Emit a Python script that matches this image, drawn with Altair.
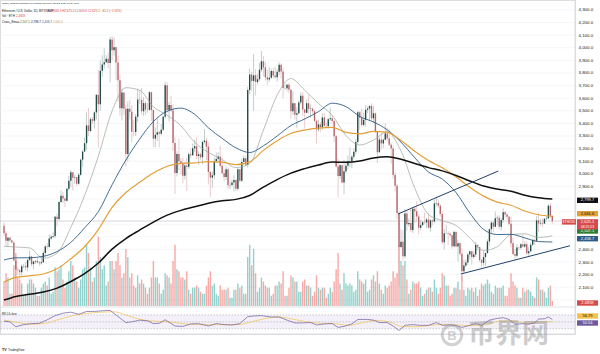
import altair as alt
import pandas as pd

# ---------------- data (read / estimated from the picture) ----------------
first_open = 2587
close_jan = [2528,2468,2492,2470,2455,2313,2240,2235,2218,2267,2268,2257,2317,2343,2283]
high_jan  = [2613,2546,2500,2500,2478,2461,2350,2260,2240,2282,2285,2300,2325,2393,2350]
low_jan   = [2508,2423,2417,2456,2450,2305,2168,2200,2166,2193,2250,2233,2227,2310,2265]
close_feb = [2304,2309,2296,2290,2298,2372,2423,2419,2486,2501,2507,2659,2642,2777,2825,2803,2786,2881,2944,3013,2968,2972,2922,2992,3112,3177,3243,3384,3340]
high_feb  = [2306,2318,2330,2310,2340,2389,2437,2450,2520,2515,2538,2665,2686,2785,2868,2857,2810,2890,2984,3030,3013,2993,2975,3008,3120,3190,3288,3487,3522]
low_feb   = [2243,2285,2290,2268,2278,2292,2350,2404,2415,2475,2490,2490,2583,2629,2768,2770,2736,2777,2865,2896,2867,2920,2904,2912,2982,3055,3173,3190,3300]
close_mar = [3433,3421,3487,3627,3552,3818,3868,3885,3912,3880,4066,3980,4005,3883,3742,3521,3645,3517,3157,3517,3492,3333,3331,3452,3589,3586,3496,3561,3510,3508,3647]
high_mar  = [3450,3450,3495,3630,3823,3900,3940,3995,3940,3960,4085,4093,4083,4010,3935,3785,3678,3645,3545,3575,3587,3544,3430,3475,3675,3663,3680,3608,3577,3565,3657]
low_mar   = [3330,3395,3360,3430,3208,3500,3770,3835,3880,3838,3725,3900,3937,3745,3570,3460,3423,3466,3057,3100,3430,3250,3298,3300,3410,3554,3470,3460,3465,3483,3500]
close_apr = [3505,3279,3310,3330,3317,3350,3453,3702,3506,3545,3503,3245,3007,3157,3099,3082,2985,3066,3055,3155,3147,3202,3219,3141,3155,3131,3252,3263,3215,3014]
high_apr  = [3651,3510,3367,3441,3345,3395,3461,3730,3726,3570,3620,3550,3290,3180,3280,3125,3125,3093,3130,3170,3200,3240,3270,3290,3178,3167,3264,3355,3285,3250]
low_apr   = [3420,3210,3210,3260,3211,3305,3340,3438,3486,3415,3490,3180,2840,2980,3030,2995,2925,2955,2865,3040,3125,3140,3170,3117,3070,3107,3075,3240,3110,2915]
close_may = [2970,2988,3102,3117,3138,3064,3005,2974,3036,2910,2912,2930,2950,2882,3037,2945,3094,3123,3071,3664,3788,3737,3781,3728,3750,3826,3893,3844,3766,3748,3762]
high_may  = [3020,3015,3130,3170,3170,3220,3130,3030,3058,3050,2945,2955,2990,2960,3045,3040,3120,3145,3140,3690,3835,3810,3950,3830,3790,3880,3975,3935,3888,3825,3845]
low_may   = [2817,2890,2958,3085,3090,3050,3000,2940,2950,2880,2880,2900,2860,2865,2864,2930,2935,3090,3060,3050,3630,3660,3500,3620,3710,3736,3810,3775,3740,3705,3730]
close_jun = [3815,3780,3767,3810,3866,3812,3680,3678,3706,3667,3497,3560,3469,3480,3566,3620,3510,3484,3560,3514,3517,3497,3420,3352,3392,3369,3447,3380,3378,3433]
high_jun  = [3833,3840,3850,3830,3885,3875,3840,3715,3716,3720,3670,3655,3562,3528,3585,3645,3650,3515,3590,3625,3550,3528,3510,3430,3430,3410,3480,3485,3405,3445]
low_jun   = [3752,3758,3756,3730,3784,3757,3600,3669,3655,3640,3435,3468,3430,3366,3470,3550,3460,3358,3480,3480,3445,3480,3410,3240,3335,3330,3350,3375,3370,3360]
close_jul = [3440,3419,3298,3057,2983,3068,2930,3020,3064,3099,3100,3136,3174,3253,3489,3445,3388,3428,3508,3518,3537,3440,3480,3336,3171,3272,3241,3270,3320,3280,3230]
high_jul  = [3525,3462,3430,3310,3120,3080,3075,3110,3100,3145,3210,3150,3200,3275,3500,3500,3515,3485,3545,3535,3545,3560,3540,3485,3340,3290,3325,3280,3400,3365,3350]
low_jul   = [3420,3400,3250,3050,2810,2960,2925,2840,3003,3035,3055,3045,3115,3155,3230,3350,3375,3375,3375,3480,3425,3420,3400,3320,3085,3170,3190,3205,3265,3260,3220]
close_aug = [3200,2990,2905,2688,2420,2460,2345,2685,2600,2610,2555,2722,2703,2662,2571,2593,2616,2614,2637,2573,2630,2622,2765,2768,2746,2681,2457,2528,2528,2525,2513]
high_aug  = [3245,3220,3015,2920,2700,2560,2550,2720,2710,2645,2720,2740,2740,2785,2680,2635,2625,2690,2650,2690,2640,2640,2795,2820,2795,2760,2700,2560,2595,2545,2535]
low_aug   = [3080,2960,2860,2640,2111,2410,2310,2330,2550,2580,2540,2530,2610,2620,2520,2550,2585,2600,2570,2560,2540,2590,2610,2740,2730,2660,2440,2400,2520,2435,2500]
close_sep = [2425,2538,2423,2449,2366,2226,2272,2297,2360,2386,2340,2360,2436,2418,2315,2294,2340,2372,2463,2561,2613,2580,2647,2651,2580,2633,2695,2677,2659,2603]
high_sep  = [2520,2550,2550,2475,2460,2408,2315,2320,2375,2390,2390,2385,2460,2435,2420,2325,2390,2375,2480,2565,2620,2620,2700,2670,2670,2650,2725,2705,2685,2665]
low_sep   = [2405,2415,2415,2305,2350,2150,2215,2260,2275,2320,2280,2325,2340,2390,2300,2255,2270,2270,2365,2430,2525,2540,2575,2590,2560,2550,2610,2650,2635,2590]
close_oct = [2448,2364,2350,2415,2414,2440,2423,2440,2370,2386,2437,2476,2468,2630,2606,2611,2605,2643,2646,2747,2666,2625]
high_oct  = [2660,2490,2400,2440,2425,2450,2520,2465,2465,2420,2455,2480,2480,2665,2690,2640,2645,2650,2665,2760,2770,2675]
low_oct   = [2415,2355,2310,2335,2395,2400,2415,2410,2355,2340,2380,2428,2435,2465,2540,2590,2575,2600,2630,2640,2650,2604]

vol_jan = [12,16,14,6,6,20,26,14,13,11,5,6,11,13,13]
vol_feb = [11,9,5,5,9,11,12,10,14,6,7,19,17,18,20,13,9,12,17,22,20,14,12,9,13,18,19,30,26]
vol_mar = [19,12,14,22,34,24,18,20,10,12,22,22,18,22,26,20,14,16,28,24,14,16,10,9,15,11,13,11,9,6,9]
vol_apr = [14,22,14,14,11,6,8,16,15,14,11,22,30,18,17,14,14,13,17,8,6,9,9,10,9,7,6,6,10,14]
vol_may = [17,10,11,6,5,10,8,8,8,9,4,4,8,8,11,9,10,6,6,24,30,20,28,16,7,9,14,12,10,9,9]
vol_jun = [5,6,10,10,12,11,17,5,5,9,15,14,12,12,7,7,12,13,10,10,9,5,7,15,9,8,9,9,4,6]
vol_jul = [9,7,12,18,26,11,8,16,11,10,11,10,7,8,17,13,12,11,13,7,8,13,15,12,17,11,8,6,10,9,10]
vol_aug = [12,17,14,16,30,22,20,22,13,6,8,12,11,11,12,9,5,6,8,9,9,7,13,9,6,9,16,15,10,10,5]
vol_sep = [6,9,9,12,8,15,8,5,9,8,9,7,9,5,8,11,10,11,13,11,7,6,10,9,9,9,10,5,5,9]
vol_oct = [16,12,10,9,4,4,9,7,8,8,7,5,4,14,13,8,8,7,4,9,10,2.5]

# moving-average lines at weekly points
ma_dates = ["2024-01-17","2024-01-23","2024-01-30","2024-02-06","2024-02-13","2024-02-20","2024-02-27",
            "2024-03-05","2024-03-12","2024-03-19","2024-03-26","2024-04-02","2024-04-09","2024-04-16",
            "2024-04-23","2024-04-30","2024-05-07","2024-05-14","2024-05-21","2024-05-28","2024-06-04",
            "2024-06-11","2024-06-18","2024-06-25","2024-07-02","2024-07-09","2024-07-16","2024-07-23",
            "2024-07-30","2024-08-06","2024-08-13","2024-08-20","2024-08-27","2024-09-03","2024-09-10",
            "2024-09-17","2024-09-24","2024-10-01","2024-10-08","2024-10-15","2024-10-22"]
ma_gray   = [2425,2419,2412,2330,2371,2575,2827,3140,3499,3683,3663,3532,3465,3381,3250,3170,3113,3049,3082,3347,3624,
             3756,3663,3558,3464,3304,3228,3268,3332,3181,2887,2677,2628,2590,2492,2392,2421,2517,2524,2495,2507]
ma_blue   = [2316,2333,2334,2345,2383,2456,2571,2700,2913,3109,3275,3415,3496,3521,3472,3365,3281,3206,3169,3222,3300,
             3383,3435,3493,3560,3533,3455,3411,3349,3251,3128,3014,2958,2851,2689,2559,2518,2520,2491,2462,2459]
ma_orange = [2141,2178,2190,2205,2246,2326,2421,2557,2734,2852,2932,3006,3060,3083,3087,3097,3092,3073,3095,3186,3263,
             3320,3347,3362,3368,3328,3317,3337,3328,3265,3179,3105,3048,2976,2893,2823,2775,2750,2705,2675,2662]
ma_black  = [1998,2027,2044,2062,2093,2145,2207,2292,2402,2486,2553,2617,2672,2710,2738,2767,2787,2797,2828,2894,2954,
             3005,3041,3070,3093,3091,3101,3126,3136,3116,3081,3049,3023,2987,2943,2903,2879,2861,2830,2810,2800]

rsi_dates = ["2024-01-17","2024-01-20","2024-01-23","2024-01-27","2024-01-31","2024-02-04","2024-02-08","2024-02-12",
             "2024-02-16","2024-02-20","2024-02-24","2024-02-28","2024-03-03","2024-03-07","2024-03-11","2024-03-14",
             "2024-03-19","2024-03-22","2024-03-26","2024-03-30","2024-04-02","2024-04-05","2024-04-08","2024-04-13",
             "2024-04-17","2024-04-21","2024-04-25","2024-04-30","2024-05-04","2024-05-08","2024-05-12","2024-05-16",
             "2024-05-20","2024-05-23","2024-05-27","2024-06-01","2024-06-05","2024-06-09","2024-06-13","2024-06-17",
             "2024-06-21","2024-06-24","2024-06-28","2024-07-02","2024-07-05","2024-07-08","2024-07-12","2024-07-15",
             "2024-07-20","2024-07-23","2024-07-26","2024-07-30","2024-08-02","2024-08-05","2024-08-08","2024-08-12",
             "2024-08-16","2024-08-20","2024-08-24","2024-08-27","2024-08-31","2024-09-03","2024-09-06","2024-09-10",
             "2024-09-13","2024-09-16","2024-09-20","2024-09-24","2024-09-27","2024-09-30","2024-10-03","2024-10-07",
             "2024-10-10","2024-10-13","2024-10-15","2024-10-18","2024-10-20","2024-10-22"]
rsi_vals = [52,50,36,42,45,46,56,68,75,78,72,80,80,82,83,70,48,50,55,53,45,46,56,38,37,44,45,38,45,42,41,45,
            65,67,68,64,64,55,47,47,48,41,44,45,34,37,44,57,57,55,48,48,38,25,40,42,40,40,48,40,41,39,34,40,
            45,40,55,60,62,57,43,45,43,47,58,59,64,56.8]
rsima_dates = ["2024-01-17","2024-01-24","2024-01-31","2024-02-07","2024-02-14","2024-02-21","2024-02-28","2024-03-06",
               "2024-03-13","2024-03-20","2024-03-27","2024-04-03","2024-04-10","2024-04-17","2024-04-24","2024-05-01",
               "2024-05-08","2024-05-15","2024-05-22","2024-05-29","2024-06-05","2024-06-12","2024-06-19","2024-06-26",
               "2024-07-03","2024-07-10","2024-07-17","2024-07-24","2024-07-31","2024-08-07","2024-08-14","2024-08-21",
               "2024-08-28","2024-09-04","2024-09-11","2024-09-18","2024-09-25","2024-10-02","2024-10-09","2024-10-16",
               "2024-10-22"]
rsima_vals = [55,48,43,46,57,68,74,78,79,68,56,52,50,45,42,42,42,42,50,60,64,58,50,46,45,40,47,54,50,36,36,40,
              43,41,39,41,52,53,46,50,50.5]

# drawn trend lines (date, price)
trend_upper_dates = ["2024-08-04T12:00:00Z", "2024-09-24T12:00:00Z"]
trend_upper_vals = [2681, 3022]
trend_lower_dates = ["2024-09-05T12:00:00Z", "2024-10-31T00:00:00Z"]
trend_lower_vals = [2205, 2429]

last_price = 2625.1
grid_prices = list(range(2000, 4301, 100))
label_prices = [2100, 2200, 2300, 2400, 2900, 3000, 3100, 3200, 3300, 3400, 3500, 3600, 3700,
                3800, 3900, 4000, 4100, 4200, 4300]
x_tick_dates = ["2024-02-01","2024-02-12","2024-03-01","2024-03-18","2024-04-01","2024-04-15","2024-05-01",
                "2024-05-13","2024-06-01","2024-06-17","2024-07-01","2024-07-15","2024-08-01","2024-08-19",
                "2024-09-01","2024-09-16","2024-10-01","2024-10-14","2024-10-28"]

# ---------------- build tables ----------------
closes = close_jan+close_feb+close_mar+close_apr+close_may+close_jun+close_jul+close_aug+close_sep+close_oct
highs = high_jan+high_feb+high_mar+high_apr+high_may+high_jun+high_jul+high_aug+high_sep+high_oct
lows = low_jan+low_feb+low_mar+low_apr+low_may+low_jun+low_jul+low_aug+low_sep+low_oct
vols = vol_jan+vol_feb+vol_mar+vol_apr+vol_may+vol_jun+vol_jul+vol_aug+vol_sep+vol_oct
dates = pd.date_range("2024-01-17", periods=len(closes), freq="D").strftime("%Y-%m-%d").tolist()
opens = [first_open] + closes[:-1]

UP_BODY, DN_BODY = "#1f4b47", "#b4646a"
UP_WICK, DN_WICK = "#8fa5a1", "#d4a2a5"
UP_VOL, DN_VOL = "#26a69a", "#ef5350"

rows = []
for d, o, h, l, c, v in zip(dates, opens, highs, lows, closes, vols):
    up = c >= o
    rows.append(dict(date=d, open=o, close=c, hi=max(h, o, c), lo=min(l, o, c), vol=v,
                     body=UP_BODY if up else DN_BODY, wick=UP_WICK if up else DN_WICK,
                     vcol=UP_VOL if up else DN_VOL))
candles = pd.DataFrame(rows)

ma_df = pd.DataFrame({"date": ma_dates, "gray": ma_gray, "blue": ma_blue, "orange": ma_orange, "black": ma_black})
rsi_df = pd.DataFrame({"date": rsi_dates, "v": rsi_vals})
rsima_df = pd.DataFrame({"date": rsima_dates, "v": rsima_vals})
tu_df = pd.DataFrame({"date": trend_upper_dates, "v": trend_upper_vals})
tl_df = pd.DataFrame({"date": trend_lower_dates, "v": trend_lower_vals})

def ms(s):
    t = pd.Timestamp(s)
    if t.tzinfo is None:
        t = t.tz_localize("UTC")
    return int(t.value // 10**6)

FONT = "Liberation Sans"
TXT = "#131722"
W, H = 575, 334

xs = alt.Scale(type="utc", domain=[ms("2024-01-17T12:00:00"), ms("2024-10-31T00:00:00")], nice=False)
ps = alt.Scale(domain=[1951, 4379], range=[306, 0], nice=False, zero=False)
vs = alt.Scale(domain=[0, 150], range=[306, 0], nice=False, zero=True)
rs = alt.Scale(domain=[15, 90], range=[334, 308], nice=False, zero=False)

x_axis = alt.Axis(values=[ms(t) for t in x_tick_dates],
                  labelExpr="utcdate(datum.value) == 1 ? utcFormat(datum.value, '%b') : utcFormat(datum.value, '%-d')",
                  grid=True, gridColor="#eef0f4", gridWidth=0.6, ticks=False, domain=False,
                  labelFontSize=4.4, labelColor=TXT, labelPadding=3, title=None, labelFont=FONT,
                  labelOverlap=False, labelFlush=False)
p_axis = alt.Axis(orient="right", values=label_prices, format=",.1f", grid=False,
                  ticks=False, domain=False, labelFontSize=4.4, labelColor=TXT,
                  labelPadding=3, title=None, labelFont=FONT, labelOverlap=False, labelAlign="left")

X = alt.X("date:T", scale=xs, axis=None)

hgrid = alt.Chart(pd.DataFrame({"g": grid_prices})).mark_rule(color="#eef0f4", strokeWidth=0.6).encode(
    y=alt.Y("g:Q", scale=ps, axis=None))

volume = alt.Chart(candles).mark_bar(size=1.4, opacity=0.5).encode(
    x=X, y=alt.Y("vol:Q", scale=vs, axis=None), color=alt.Color("vcol:N", scale=None))

wicks = alt.Chart(candles).mark_rule(strokeWidth=0.55).encode(
    x=alt.X("date:T", scale=xs, axis=x_axis),
    y=alt.Y("lo:Q", scale=ps, axis=p_axis), y2="hi:Q",
    color=alt.Color("wick:N", scale=None))

bodies = alt.Chart(candles).mark_bar(size=1.35).encode(
    x=X, y=alt.Y("open:Q", scale=ps, axis=None), y2="close:Q",
    color=alt.Color("body:N", scale=None))

price_line = alt.Chart(pd.DataFrame({"p": [last_price]})).mark_rule(color="#b8bcc6", strokeWidth=0.6).encode(
    y=alt.Y("p:Q", scale=ps, axis=None))

def ma_layer(col, color, width):
    return alt.Chart(ma_df).mark_line(color=color, strokeWidth=width, interpolate="monotone").encode(
        x=X, y=alt.Y(f"{col}:Q", scale=ps, axis=None))

l_gray = ma_layer("gray", "#9aa39a", 0.7)
l_blue = ma_layer("blue", "#2c5d86", 0.9)
l_orange = ma_layer("orange", "#e3a036", 1.2)
l_black = ma_layer("black", "#111111", 1.5)

t_up = alt.Chart(tu_df).mark_line(color="#22406b", strokeWidth=1).encode(x=X, y=alt.Y("v:Q", scale=ps, axis=None))
t_lo = alt.Chart(tl_df).mark_line(color="#22406b", strokeWidth=1).encode(x=X, y=alt.Y("v:Q", scale=ps, axis=None))

# RSI pane
rsi_band = alt.Chart(pd.DataFrame({"a": [70], "b": [30]})).mark_rect(color="#7e57c2", opacity=0.09).encode(
    x=alt.value(0), x2=alt.value(W), y=alt.Y("a:Q", scale=rs, axis=None), y2="b:Q")
rsi_levels = alt.Chart(pd.DataFrame({"lv": [70, 50, 30]})).mark_rule(
    color="#9598a1", strokeWidth=0.5, strokeDash=[1.5, 1.5]).encode(y=alt.Y("lv:Q", scale=rs, axis=None))
rsi_line = alt.Chart(rsi_df).mark_line(color="#6d5a9e", strokeWidth=0.7).encode(
    x=X, y=alt.Y("v:Q", scale=rs, axis=None))
rsima_line = alt.Chart(rsima_df).mark_line(color="#f2c14e", strokeWidth=0.7, interpolate="monotone").encode(
    x=X, y=alt.Y("v:Q", scale=rs, axis=None))

sep = alt.Chart(pd.DataFrame({"k": [0]})).mark_rule(color="#d6d9e0", strokeWidth=0.8).encode(
    x=alt.value(0), x2=alt.value(W), y=alt.value(307))
bottom_border = alt.Chart(pd.DataFrame({"k": [0]})).mark_rule(color="#d6d9e0", strokeWidth=0.8).encode(
    x=alt.value(0), x2=alt.value(W), y=alt.value(H))
right_border = alt.Chart(pd.DataFrame({"k": [0]})).mark_rule(color="#d6d9e0", strokeWidth=0.8).encode(
    x=alt.value(W), y=alt.value(0), y2=alt.value(H))

def text(x, y, s, color=TXT, size=2.6, weight="normal", align="left", font=FONT, opacity=1.0):
    return alt.Chart(pd.DataFrame({"t": [s]})).mark_text(
        align=align, baseline="middle", fontSize=size, font=font, fontWeight=weight,
        color=color, opacity=opacity).encode(x=alt.value(x), y=alt.value(y), text="t:N")

def box(x1, x2, yc, h, bg):
    return alt.Chart(pd.DataFrame({"k": [0]})).mark_rect(color=bg).encode(
        x=alt.value(x1), x2=alt.value(x2), y=alt.value(yc - h / 2), y2=alt.value(yc + h / 2))

ann = []
# header
ann.append(text(2, 3.5, "armas_shihnari published on TradingView.com, Oct 22, 2024 15:24 UTC", size=2.4))
ann.append(text(2, 10.5, "Ethereum / U.S. Dollar, 1D, BITSTAMP", size=3.0))
ann.append(text(49, 10.5, "O2,666.3  H2,675.2  L2,603.6  C2,625.1  \u221241.2 (\u22121.55%)", color="#d84a4a", size=3.0))
ann.append(text(2, 16, "Vol \u00b7 ETH", size=3.0))
ann.append(text(16, 16, "2.485K", color="#d84a4a", size=3.0))
ann.append(text(2, 21.5, "Cross_Emas", size=3.0))
ann.append(text(20, 21.5, "2,507.1", color="#2e7d32", size=3.0))
ann.append(text(31, 21.5, "2,799.7", color="#111111", size=3.0))
ann.append(text(42, 21.5, "2,458.7", color="#2c5d86", size=3.0))
ann.append(text(53, 21.5, "2,661.6", color="#e3a036", size=3.0))
ann.append(text(2, 314, "RSI 14 close", size=2.6))

# right-axis value tags
tags = [(200.3, "2,799.7", "#111111", "white"),
        (213.7, "2,661.6", "#e3a036", "#111111"),
        (231.0, "2,507.1", "#2e7d32", "white"),
        (238.7, "2,458.7", "#2c5d86", "white"),
        (303.0, "2.485K", "#d84a4a", "white"),
        (316.0, "56.79", "#f2c14e", "#111111"),
        (323.0, "50.54", "#6d5a9e", "white")]
for yc, s, bg, fg in tags:
    ann.append(box(577, 598, yc, 5.4, bg))
    ann.append(text(587.5, yc, s, color=fg, size=4.0, align="center"))
ann.append(box(577, 598, 224.3, 10.2, "#d84a4a"))
ann.append(text(587.5, 221.9, "2,625.1", color="white", size=4.0, align="center"))
ann.append(text(587.5, 226.9, "08:25:53", color="white", size=3.4, align="center"))
ann.append(box(562, 576, 221.9, 5.4, "#d84a4a"))
ann.append(text(569, 221.9, "ETHUSD", color="white", size=3.0, align="center"))

# footer and watermark
ann.append(text(2, 350, "TV", size=3.6, weight="bold"))
ann.append(text(8, 350, "TradingView", size=3.0))
wm_ring = alt.Chart(pd.DataFrame({"k": [0]})).mark_point(
    shape="circle", size=380, filled=False, color="#9a9a9a", strokeWidth=3, opacity=0.45).encode(
    x=alt.value(452), y=alt.value(335))
ann.append(wm_ring)
ann.append(text(452, 335.5, "B", color="#9a9a9a", size=13, weight="bold", align="center", opacity=0.45))
ann.append(text(468, 335, "\u5e01\u754c\u7f51", color="#8a8a8a", size=27, weight="bold",
                font="Noto Sans CJK SC", align="left", opacity=0.42))

layers = [hgrid, rsi_band, rsi_levels, volume, price_line, wicks, bodies, l_gray, l_blue, l_orange, l_black,
          t_up, t_lo, rsima_line, rsi_line, sep, bottom_border, right_border] + ann

chart = alt.layer(*layers).resolve_scale(y="independent").properties(
    width=W, height=H,
    padding={"left": 0, "top": 0, "right": 25, "bottom": 20},
    autosize=alt.AutoSizeParams(type="none"),
).configure_view(stroke=None).configure(background="white")

chart.save("out.html", embed_options={"renderer": "svg", "actions": False})
